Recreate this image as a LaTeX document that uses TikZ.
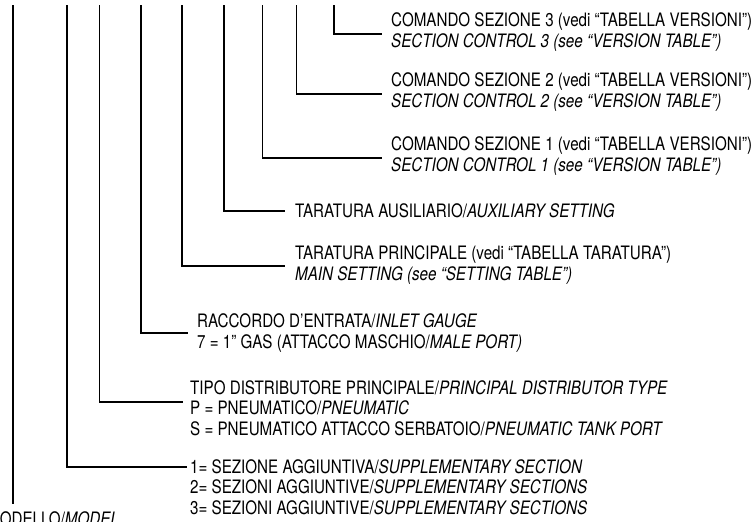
\documentclass[tikz,border=0pt]{standalone}
\usepackage{fontspec}
\setmainfont[FakeStretch=0.82]{TeX Gyre Heros}
\begin{document}
\begin{tikzpicture}[x=1pt,y=-1pt,
  lbl/.style={anchor=west,inner sep=0pt,align=left,font=\fontsize{18.5}{20.5}\selectfont},
  conn/.style={line width=1.8pt,draw=black}]
\useasboundingbox (0,0) rectangle (756,522);
\clip (0,0) rectangle (756,522);
% text blocks
\node[lbl] (s3) at (391,32) {COMANDO SEZIONE 3 (vedi “TABELLA VERSIONI”)\\\textit{SECTION CONTROL 3 (see “VERSION TABLE”)}};
\node[lbl] (s2) at (391,92) {COMANDO SEZIONE 2 (vedi “TABELLA VERSIONI”)\\\textit{SECTION CONTROL 2 (see “VERSION TABLE”)}};
\node[lbl] (s1) at (391,156) {COMANDO SEZIONE 1 (vedi “TABELLA VERSIONI”)\\\textit{SECTION CONTROL 1 (see “VERSION TABLE”)}};
\node[lbl] (aux) at (295,211) {TARATURA AUSILIARIO/\textit{AUXILIARY SETTING}};
\node[lbl] (main) at (295,265) {TARATURA PRINCIPALE (vedi “TABELLA TARATURA”)\\\textit{MAIN SETTING (see “SETTING TABLE”)}};
\node[lbl] (racc) at (197,333) {RACCORDO D’ENTRATA/\textit{INLET GAUGE}\\7 = 1” GAS (ATTACCO MASCHIO/\textit{MALE PORT)}};
\node[lbl] (tipo) at (190,408) {TIPO DISTRIBUTORE PRINCIPALE/\textit{PRINCIPAL DISTRIBUTOR TYPE}\\P = PNEUMATICO/\textit{PNEUMATIC}\\S = PNEUMATICO ATTACCO SERBATOIO/\textit{PNEUMATIC TANK PORT}};
\node[lbl] (supp) at (190,487) {1= SEZIONE AGGIUNTIVA/\textit{SUPPLEMENTARY SECTION}\\2= SEZIONI AGGIUNTIVE/\textit{SUPPLEMENTARY SECTIONS}\\3= SEZIONI AGGIUNTIVE/\textit{SUPPLEMENTARY SECTIONS}};
\node[lbl,anchor=north west] (model) at (-13,511) {MODELLO/\textit{MODEL}};
% connector tops
\coordinate (tm) at (12.7,5);   \coordinate (em) at (12.7,504);
\coordinate (tsu) at (67,5);    \coordinate (esu) at (187,467);
\coordinate (tti) at (99.5,5);  \coordinate (eti) at (183,402);
\coordinate (tra) at (141,5);   \coordinate (era) at (188,333);
\coordinate (tma) at (181.7,5); \coordinate (ema) at (285,266);
\coordinate (tau) at (224,5);   \coordinate (eau) at (285,211);
\coordinate (ts1) at (262.5,5); \coordinate (es1) at (382,158);
\coordinate (ts2) at (296.5,5); \coordinate (es2) at (382,94);
\coordinate (ts3) at (334,5);   \coordinate (es3) at (382,34);
% connectors
\draw[conn] (tm) -- (em);
\draw[conn] (tsu) |- (esu);
\draw[conn] (tti) |- (eti);
\draw[conn] (tra) |- (era);
\draw[conn] (tma) |- (ema);
\draw[conn] (tau) |- (eau);
\draw[conn] (ts1) |- (es1);
\draw[conn] (ts2) |- (es2);
\draw[conn] (ts3) |- (es3);
\end{tikzpicture}
\end{document}
